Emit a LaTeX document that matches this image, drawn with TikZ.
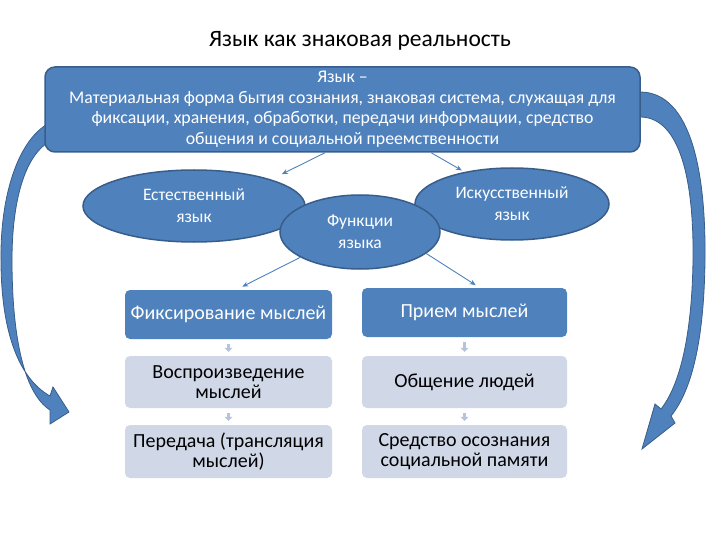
\documentclass[tikz,border=0pt]{standalone}
\usepackage{fontspec}
\setmainfont{Carlito}
\usetikzlibrary{shapes.geometric,arrows.meta}
\definecolor{boxblue}{HTML}{4F81BD}
\definecolor{edgeblue}{HTML}{385D8A}
\definecolor{paleblue}{HTML}{D0D8E8}
\definecolor{stepgray}{HTML}{B4C4DC}
\tikzset{
	topbox/.style={draw=edgeblue,line width=1.5pt,fill=boxblue,rounded corners=10pt,text=white,align=center,inner sep=0pt,font=\fontsize{17.8}{20.5}\selectfont},
	oval/.style={ellipse,draw=edgeblue,line width=1.5pt,fill=boxblue,text=white,align=center,inner sep=0pt,font=\fontsize{17.5}{22}\selectfont},
	darkcell/.style={fill=boxblue,rounded corners=5pt,text=white,align=center,inner sep=0pt,font=\fontsize{20}{20}\selectfont},
	palecell/.style={fill=paleblue,rounded corners=5pt,text=black,align=center,inner sep=0pt,font=\fontsize{20}{20}\selectfont},
	thinarrow/.style={draw=boxblue,line width=0.9pt,-{Stealth[length=6pt,width=5pt]}},
	steparrow/.style={draw=stepgray,line width=3pt,-{Triangle[length=4pt,width=8pt]},shorten <=5pt,shorten >=4pt},
	bigarrow/.style={fill=boxblue,draw=edgeblue,line width=0.8pt}
}
\begin{document}
\begin{tikzpicture}[x=1pt,y=-1pt]
	\useasboundingbox (0,0) rectangle (720,540);
	% curved arrows behind the main box
	\filldraw[bigarrow](66,118) .. controls (22,122) and (0,190) .. (1,260)
		.. controls (1,330) and (18,378) .. (50,396)
		-- (53,387) -- (69,412) -- (50,424) -- (50,410)
		.. controls (22,392) and (12,330) .. (12,260)
		.. controls (12,190) and (30,138) .. (66,137) -- cycle;
	\filldraw[bigarrow](640,92) .. controls (692,92) and (706,175) .. (705,260)
		.. controls (704,340) and (692,390) .. (671,416)
		-- (675,423) -- (642,449) -- (655,404) -- (661,409)
		.. controls (680,385) and (692,335) .. (693,260)
		.. controls (694,180) and (680,117) .. (640,117) -- cycle;
	\node[anchor=base](title) at (360,47){\fontsize{23.5}{28}\selectfont Язык как знаковая реальность};
	\node[topbox,minimum width=595pt,minimum height=85pt](lang) at (342.5,109.5){Язык --\\Материальная форма бытия сознания, знаковая система, служащая для\\фиксации, хранения, обработки, передачи информации, средство\\общения и социальной преемственности};
	\node[oval,minimum width=222pt,minimum height=72pt](natural) at (194,206){Естественный\\язык};
	\node[oval,minimum width=194pt,minimum height=72pt](artificial) at (512,204){Искусственный\\язык};
	\node[oval,minimum width=160pt,minimum height=74pt](functions) at (360,232){Функции\\языка};
	% left column
	\node[darkcell,minimum width=207pt,minimum height=49pt](fix) at (228.5,314.5){Фиксирование мыслей};
	\node[palecell,minimum width=207pt,minimum height=52pt](repro) at (228.5,382){Воспроизведение\\мыслей};
	\node[palecell,minimum width=207pt,minimum height=53pt](trans) at (228.5,451.5){Передача (трансляция\\мыслей)};
	% right column
	\node[darkcell,minimum width=205pt,minimum height=49pt](receive) at (464.5,312.5){Прием мыслей};
	\node[palecell,minimum width=205pt,minimum height=52pt](talk) at (464.5,382){Общение людей};
	\node[palecell,minimum width=205pt,minimum height=53pt](memory) at (464.5,451.5){Средство осознания\\социальной памяти};
	% connectors
	\draw[thinarrow,shorten >=12pt](lang.248)--(natural.19);
	\draw[thinarrow,shorten >=3pt](lang.334)--(artificial.146);
	\draw[thinarrow,shorten >=7pt](functions.203)--(fix.73);
	\draw[thinarrow,shorten >=5pt](functions.342)--(receive.58);
	\draw[steparrow](fix)--(repro);
	\draw[steparrow](repro)--(trans);
	\draw[steparrow](receive)--(talk);
	\draw[steparrow](talk)--(memory);
\end{tikzpicture}
\end{document}
